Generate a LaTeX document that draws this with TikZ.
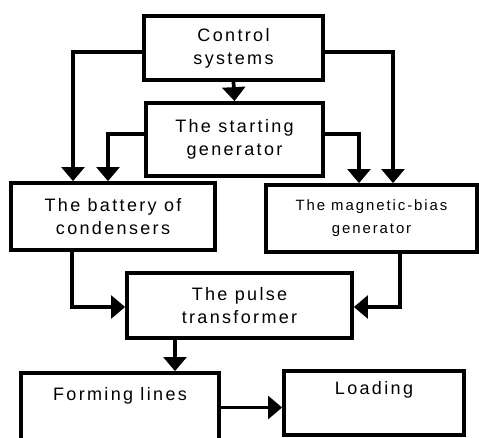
\documentclass[tikz,border=0pt]{standalone}
\usepackage{fontspec}
\setmainfont{Liberation Sans}[LetterSpace=13]
\usetikzlibrary{arrows.meta,calc}
\begin{document}
\begin{tikzpicture}[x=0.75pt,y=-0.75pt,
  blk/.style={draw,line width=2.8pt,fill=white,align=center,inner sep=0pt,
    font=\fontsize{13.5}{17.25}\selectfont},
  arr/.style={line width=2.8pt,line join=miter,-{Triangle[width=17pt,length=10.5pt]}}]
\useasboundingbox (0,0) rectangle (479,437);
\node[blk,minimum width=179*0.75pt,minimum height=64*0.75pt] (ctrl) at (233.5,48) {Control\\systems};
\node[blk,minimum width=177*0.75pt,minimum height=73*0.75pt] (start) at (234.5,139.5) {The starting\\generator};
\node[blk,minimum width=204*0.75pt,minimum height=67*0.75pt] (bat) at (113,216.5) {The battery of\\condensers};
\node[blk,minimum width=211*0.75pt,minimum height=67*0.75pt,font=\fontsize{11.2}{17.25}\selectfont] (mag) at (371.5,218.5) {The magnetic-bias\\generator};
\node[blk,minimum width=225*0.75pt,minimum height=65*0.75pt] (pulse) at (239.5,305.5) {The pulse\\transformer};
\node[blk,minimum width=198*0.75pt,minimum height=72*0.75pt] (form) at (120,409) {Forming lines\\\strut};
\node[blk,minimum width=180*0.75pt,minimum height=64*0.75pt] (load) at (374,403) {Loading\\\strut};
\draw[arr] (ctrl.south) -- (start.north);
\draw[arr] ($(ctrl.west)+(0,4)$) -| ($(bat.north)+(-40,0)$);
\draw[arr] ($(start.west)+(0,-5.5)$) -| ($(bat.north)+(-5,0)$);
\draw[arr] ($(ctrl.east)+(0,4)$) -| ($(mag.north)+(21.5,0)$);
\draw[arr] ($(start.east)+(0,-5.5)$) -| ($(mag.north)+(-12.5,0)$);
\draw[arr] ($(bat.south)+(-41,0)$) |- ($(pulse.west)+(0,1.5)$);
\draw[arr] ($(mag.south)+(28.5,0)$) |- ($(pulse.east)+(0,1.5)$);
\draw[arr] ($(pulse.south)+(-64.5,0)$) -- ($(form.north)+(55,0)$);
\draw[arr] ($(form.east)+(0,-1.5)$) -- ($(load.west)+(0,4.5)$);
\end{tikzpicture}
\end{document}
